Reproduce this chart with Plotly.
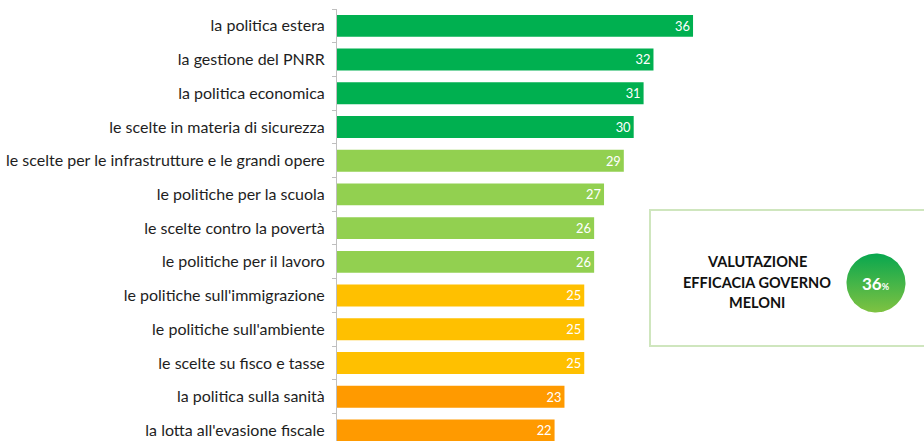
import numpy as np
import plotly.graph_objects as go

categories = [
    "la politica estera",
    "la gestione del PNRR",
    "la politica economica",
    "le scelte in materia di sicurezza",
    "le scelte per le infrastrutture e le grandi opere",
    "le politiche per la scuola",
    "le scelte contro la povertà",
    "le politiche per il lavoro",
    "le politiche sull'immigrazione",
    "le politiche sull'ambiente",
    "le scelte su fisco e tasse",
    "la politica sulla sanità",
    "la lotta all'evasione fiscale",
]
values = [36, 32, 31, 30, 29, 27, 26, 26, 25, 25, 25, 23, 22]
color_groups = ["dark", "dark", "dark", "dark", "light", "light", "light", "light",
                "yellow", "yellow", "yellow", "orange", "orange"]
palette = {"dark": "#00B050", "light": "#92D050", "yellow": "#FFC000", "orange": "#FF9A00"}
overall_value = 36
box_lines = ["VALUTAZIONE", "EFFICACIA GOVERNO", "MELONI"]

W, H = 924, 441
ml, mt = 337, 9
pw, ph = W - ml, H - mt
px_per_unit = 9.89

fig = go.Figure()
fig.add_trace(go.Bar(
    y=categories, x=values, orientation="h",
    marker=dict(color=[palette[g] for g in color_groups], line=dict(width=0)),
    width=0.65,
    text=[str(v) for v in values], textposition="inside", insidetextanchor="end",
    textangle=0,
    textfont=dict(family="Lato", size=17, color="white"),
    cliponaxis=False, hoverinfo="skip",
))

# circle badge (gradient) on an overlay axis
cx, cy, r = 876, 283, 31
half = 36
theta = np.linspace(0, 2 * np.pi, 121)
fig.add_trace(go.Scatter(
    x=r * np.cos(theta), y=r * np.sin(theta), xaxis="x2", yaxis="y2",
    mode="lines", fill="toself",
    line=dict(color="white", width=3),
    fillgradient=dict(type="vertical", colorscale=[[0, "#82C341"], [1, "#05A64F"]]),
    hoverinfo="skip", showlegend=False,
))

fig.update_layout(
    width=W, height=H,
    margin=dict(l=ml, r=0, t=mt, b=0),
    paper_bgcolor="white", plot_bgcolor="white",
    showlegend=False,
    xaxis=dict(range=[0, pw / px_per_unit], visible=False, fixedrange=True),
    yaxis=dict(
        type="category", categoryorder="array", categoryarray=categories,
        range=[(H - 26) / 33.7, -0.5],
        showline=True, linecolor="#BFBFBF", linewidth=1,
        ticks="outside", tickson="boundaries", ticklen=4, tickcolor="#BFBFBF",
        tickfont=dict(family="Lato", size=16, color="#1E1E1E"),
        ticklabelstandoff=8,
        showgrid=False, zeroline=False,
    ),
    xaxis2=dict(domain=[(cx - half - ml) / pw, (cx + half - ml) / pw], range=[-half, half],
                visible=False, anchor="y2"),
    yaxis2=dict(domain=[(H - cy - half) / ph, (H - cy + half) / ph], range=[-half, half],
                visible=False, anchor="x2"),
)

shapes = []
shapes.append(dict(type="rect", xref="paper", yref="paper",
                   x0=(650 - ml) / pw, x1=(935 - ml) / pw,
                   y0=(H - 346) / ph, y1=(H - 210) / ph,
                   line=dict(color="#CFE6BE", width=2), fillcolor="rgba(0,0,0,0)", layer="below"))
shapes.append(dict(type="circle", xref="paper", yref="paper",
                   xsizemode="pixel", ysizemode="pixel",
                   xanchor=(cx - ml) / pw, yanchor=(H - cy - 2) / ph,
                   x0=-r - 3, x1=r + 3, y0=-r - 3, y1=r + 3,
                   line=dict(width=0), fillcolor="rgba(0,0,0,0.12)", layer="below"))
fig.update_layout(shapes=shapes)

annotations = []
line_y = [261, 282, 302]
for txt, yy in zip(box_lines, line_y):
    annotations.append(dict(text="<b>" + txt + "</b>", xref="paper", yref="paper",
                            x=(757 - ml) / pw, y=(H - yy) / ph, showarrow=False,
                            xanchor="center", yanchor="middle",
                            font=dict(family="Lato", size=14.5, color="#111111")))
annotations.append(dict(text="<b>%d<span style='font-size:9px'>%%</span></b>" % overall_value,
                        xref="paper", yref="paper", x=(cx - ml) / pw, y=(H - cy) / ph,
                        showarrow=False, xanchor="center", yanchor="middle",
                        font=dict(family="Lato", size=17, color="white")))
fig.update_layout(annotations=annotations)

fig.write_html("out.html")
